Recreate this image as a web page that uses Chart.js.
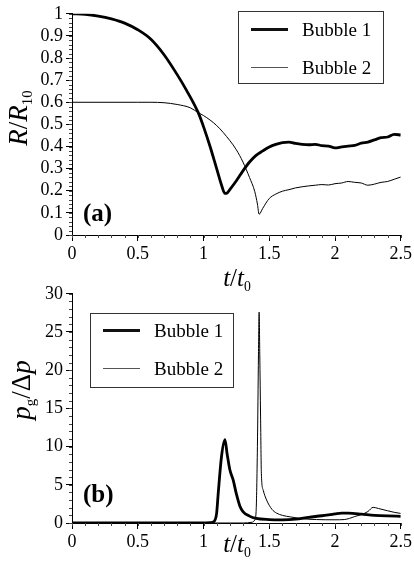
<!DOCTYPE html>
<html>
<head>
<meta charset="utf-8">
<script src="https://cdn.jsdelivr.net/npm/chart.js@4/dist/chart.umd.min.js"></script>
<style>
  body { margin: 0; background: #fff; }
  .wrap { position: relative; width: 414px; height: 579px; overflow: hidden; font-family: 'Times New Roman', 'Liberation Serif', serif; color: #000; }
  canvas { position: absolute; left: 0; }
  .lbl { position: absolute; white-space: nowrap; line-height: 1; }
  .lbl sub { font-size: 0.55em; vertical-align: -0.35em; font-style: normal; }
  .ytitle { transform: translate(-50%, -50%) rotate(-90deg); }
  .xtitle { transform: translate(-50%, -50%); }
  .legend { position: absolute; border: 1px solid #333; box-sizing: border-box; }
  .legend .ln { position: absolute; }
  .legend .tx { position: absolute; font-size: 19px; line-height: 1; transform: translateY(-50%); white-space: nowrap; }
</style>
</head>
<body>
<div class="wrap">
  <canvas id="chartR" width="414" height="290" style="top:0;width:414px;height:290px"></canvas>
  <canvas id="chartP" width="414" height="299" style="top:280px;width:414px;height:299px"></canvas>

  <div class="lbl ytitle" style="left:20px;top:118px;font-size:27px"><i>R</i>/<i>R</i><sub>10</sub></div>
  <div class="lbl xtitle" style="left:237px;top:279px;font-size:25px"><i>t</i>/<i>t</i><sub>0</sub></div>
  <div class="lbl" style="left:83px;top:200px;font-size:25px;font-weight:bold">(a)</div>
  <div id="legendR" class="legend" style="left:238px;top:11px;width:146px;height:73px"></div>

  <div class="lbl ytitle" style="left:23px;top:390px;font-size:27px"><i>p</i><sub>g</sub>/Δ<i>p</i></div>
  <div class="lbl xtitle" style="left:237px;top:545px;font-size:25px"><i>t</i>/<i>t</i><sub>0</sub></div>
  <div class="lbl" style="left:83px;top:481px;font-size:25px;font-weight:bold">(b)</div>
  <div id="legendP" class="legend" style="left:90px;top:313px;width:144px;height:75px"></div>
</div>

<script>
'use strict';
// ---- data ----
const seriesNames = ['Bubble 1', 'Bubble 2'];

const xTicks = [0, 0.5, 1, 1.5, 2, 2.5];
const yTicksR = [0, 0.1, 0.2, 0.3, 0.4, 0.5, 0.6, 0.7, 0.8, 0.9, 1];
const yTicksP = [0, 5, 10, 15, 20, 25, 30];

// (a) radius
const tR1 = [0, 0.1, 0.2, 0.3, 0.4, 0.5, 0.6, 0.7, 0.8, 0.87, 0.96, 1.0, 1.05, 1.1, 1.14, 1.163, 1.18, 1.2, 1.25, 1.3, 1.35, 1.4, 1.45, 1.5, 1.55, 1.6, 1.65, 1.7, 1.75, 1.8, 1.85, 1.9, 1.95, 2.0, 2.05, 2.1, 2.15, 2.2, 2.25, 2.3, 2.35, 2.4, 2.45, 2.5];
const r1 = [1, 0.998, 0.99, 0.977, 0.958, 0.928, 0.885, 0.815, 0.725, 0.655, 0.553, 0.49, 0.4, 0.3, 0.22, 0.188, 0.19, 0.205, 0.245, 0.29, 0.33, 0.36, 0.38, 0.398, 0.41, 0.418, 0.42, 0.414, 0.41, 0.408, 0.41, 0.404, 0.402, 0.394, 0.398, 0.402, 0.405, 0.415, 0.42, 0.43, 0.44, 0.443, 0.455, 0.452];

const tR2 = [0, 0.5, 0.6, 0.7, 0.8, 0.9, 0.96, 1.0, 1.1, 1.2, 1.25, 1.3, 1.35, 1.39, 1.41, 1.423, 1.45, 1.5, 1.55, 1.6, 1.65, 1.7, 1.75, 1.8, 1.85, 1.9, 1.95, 2.0, 2.05, 2.1, 2.15, 2.2, 2.25, 2.3, 2.35, 2.4, 2.45, 2.5];
const r2 = [0.6, 0.6, 0.6, 0.598, 0.59, 0.575, 0.553, 0.54, 0.495, 0.427, 0.385, 0.33, 0.26, 0.196, 0.14, 0.094, 0.12, 0.165, 0.185, 0.198, 0.205, 0.213, 0.218, 0.222, 0.225, 0.228, 0.226, 0.232, 0.235, 0.242, 0.238, 0.235, 0.225, 0.23, 0.238, 0.242, 0.252, 0.262];

// (b) gas pressure
const tP1 = [0, 1.0, 1.05, 1.08, 1.1, 1.112, 1.137, 1.163, 1.18, 1.2, 1.226, 1.25, 1.277, 1.3, 1.35, 1.4, 1.5, 1.6, 1.7, 1.8, 1.9, 2.0, 2.05, 2.1, 2.2, 2.3, 2.4, 2.5];
const p1 = [0, 0, 0.05, 0.2, 1.3, 3.9, 8.7, 10.9, 9.0, 7.0, 5.6, 3.8, 2.2, 1.5, 0.9, 0.6, 0.45, 0.42, 0.5, 0.75, 0.95, 1.2, 1.3, 1.28, 1.15, 1.0, 0.92, 0.88];

const tP2 = [0, 1.3, 1.37, 1.39, 1.4, 1.41, 1.418, 1.423, 1.428, 1.434, 1.44, 1.454, 1.48, 1.52, 1.555, 1.6, 1.66, 1.76, 1.86, 2.0, 2.07, 2.11, 2.15, 2.2, 2.25, 2.29, 2.33, 2.4, 2.45, 2.5];
const p2 = [0, 0, 0.1, 0.4, 1.5, 10, 22, 27.6, 22, 14, 6.5, 4.3, 3.0, 1.8, 1.3, 1.0, 0.8, 0.55, 0.45, 0.42, 0.45, 0.6, 0.85, 1.1, 1.5, 2.05, 1.9, 1.6, 1.4, 1.25];

const toPoints = (xs, ys) => xs.map((x, i) => ({ x: x, y: ys[i] }));

Chart.defaults.font.family = "'Times New Roman', 'Liberation Serif', serif";
Chart.defaults.font.size = 18;
Chart.defaults.color = '#000';

// small outward ticks between the labelled ones
const minorTicks = {
  id: 'minorTicks',
  afterDraw(chart, args, opts) {
    const ctx = chart.ctx;
    const xs = chart.scales.x, ys = chart.scales.y;
    ctx.save();
    ctx.strokeStyle = '#444';
    ctx.lineWidth = 1;
    ctx.beginPath();
    for (let v = xs.min; v <= xs.max + 1e-9; v += opts.xStep) {
      const px = Math.round(xs.getPixelForValue(v)) + 0.5;
      ctx.moveTo(px, ys.bottom);
      ctx.lineTo(px, ys.bottom + 3);
    }
    for (let v = ys.min; v <= ys.max + 1e-9; v += opts.yStep) {
      const py = Math.round(ys.getPixelForValue(v)) + 0.5;
      ctx.moveTo(xs.left, py);
      ctx.lineTo(xs.left - 3, py);
    }
    ctx.stroke();
    ctx.restore();
  }
};

const fmt = v => String(Math.round(v * 100) / 100);

const makeOptions = function(yTicks, yMax, padTop, xHeight, yStep){
  return {
    responsive: false,
    animation: false,
    layout: { autoPadding: false, padding: { top: padTop, right: 13, left: 0, bottom: 0 } },
    plugins: {
      legend: { display: false },
      tooltip: { enabled: false },
      minorTicks: { xStep: 0.1, yStep: yStep }
    },
    elements: { point: { radius: 0 } },
    scales: {
      x: {
        type: 'linear', min: 0, max: 2.5,
        afterBuildTicks: s => { s.ticks = xTicks.map(v => ({ value: v })); },
        afterFit: s => { s.height = xHeight; },
        grid: { drawOnChartArea: false, tickLength: 6, color: '#000' },
        border: { color: '#000', width: 1 },
        ticks: { padding: 2, maxRotation: 0, autoSkip: false, callback: fmt }
      },
      y: {
        type: 'linear', min: 0, max: yMax,
        afterBuildTicks: s => { s.ticks = yTicks.map(v => ({ value: v })); },
        afterFit: s => { s.width = 72; },
        grid: { drawOnChartArea: false, tickLength: 6, color: '#000' },
        border: { color: '#000', width: 1 },
        ticks: { padding: 3, autoSkip: false, callback: fmt }
      }
    }
  };
};

const makeDatasets = function(a, b){
  return [{
    label: seriesNames[0], data: a, borderColor: '#000', borderWidth: 2.8,
    cubicInterpolationMode: 'monotone', fill: false
  }, {
    label: seriesNames[1], data: b, borderColor: '#000', borderWidth: 1,
    cubicInterpolationMode: 'monotone', fill: false
  }];
};

const chartR = new Chart(document.getElementById('chartR').getContext('2d'), {
  type: 'line',
  data: { datasets: makeDatasets(toPoints(tR1, r1), toPoints(tR2, r2)) },
  options: makeOptions(yTicksR, 1, 5, 55, 0.02),
  plugins: [minorTicks]
});

const chartP = new Chart(document.getElementById('chartP').getContext('2d'), {
  type: 'line',
  data: { datasets: makeDatasets(toPoints(tP1, p1), toPoints(tP2, p2)) },
  options: makeOptions(yTicksP, 30, 13, 56, 1),
  plugins: [minorTicks]
});

// legend boxes, built from the chart's datasets
const buildLegend = function(chart, box, rowYs){
  chart.data.datasets.forEach((ds, i) => {
    const thick = ds.borderWidth > 2;
    const ln = document.createElement('div');
    ln.className = 'ln';
    ln.style.left = '12px';
    ln.style.width = '37px';
    ln.style.height = (thick ? 3 : 1) + 'px';
    ln.style.top = (rowYs[i] - (thick ? 1.5 : 0.5)) + 'px';
    ln.style.background = thick ? '#111' : '#555';
    const tx = document.createElement('div');
    tx.className = 'tx';
    tx.style.left = '63px';
    tx.style.top = rowYs[i] + 'px';
    tx.textContent = ds.label;
    box.appendChild(ln);
    box.appendChild(tx);
  });
};
buildLegend(chartR, document.getElementById('legendR'), [17, 55]);
buildLegend(chartP, document.getElementById('legendP'), [16, 54]);
</script>
</body>
</html>
